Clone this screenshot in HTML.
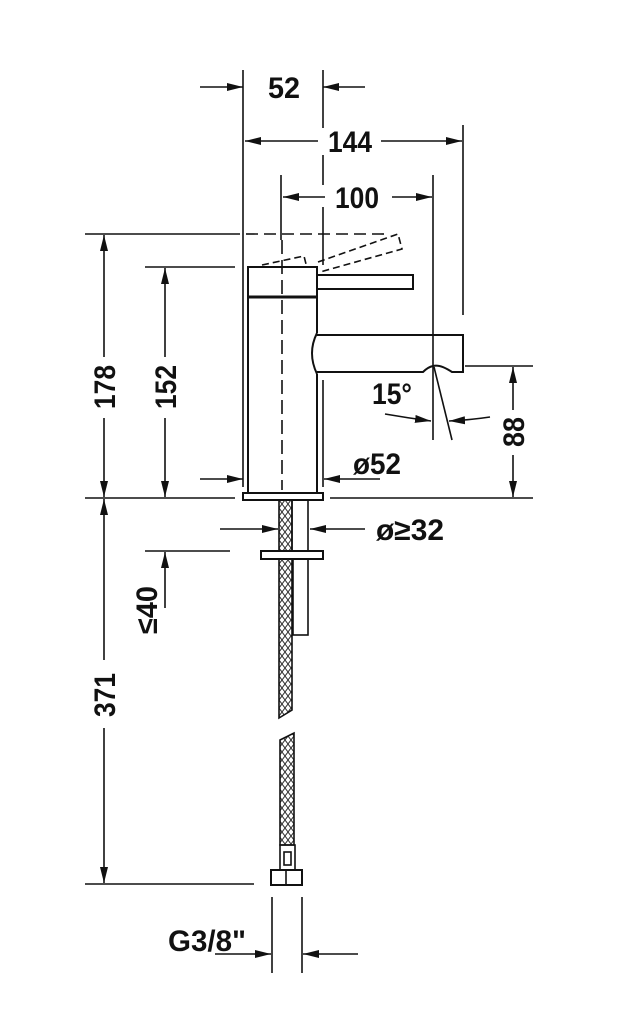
<!DOCTYPE html>
<html><head><meta charset="utf-8"><style>html,body{margin:0;padding:0;background:#fff}svg{display:block}
text{font-family:"Liberation Sans",sans-serif;font-weight:bold;fill:#111}</style></head>
<body>
<svg width="642" height="1024" viewBox="0 0 642 1024" xmlns="http://www.w3.org/2000/svg">
<defs>
<marker id="a" viewBox="0 0 16 8" refX="16" refY="4" markerWidth="16" markerHeight="8" markerUnits="userSpaceOnUse" orient="auto"><path d="M0,0 L16,4 L0,8 Z" fill="#111"/></marker>
<pattern id="h" width="6" height="8" patternUnits="userSpaceOnUse"><path d="M0,0 L6,8 M6,0 L0,8" stroke="#333" stroke-width="1" fill="none"/></pattern>
</defs>
<g stroke="#111" stroke-width="1.6" fill="none">
<line x1="243" y1="70" x2="243" y2="487"/>
<line x1="323" y1="70" x2="323" y2="128"/>
<line x1="323" y1="155" x2="323" y2="185"/>
<line x1="323" y1="207" x2="323" y2="265"/>
<line x1="323" y1="380" x2="323" y2="487"/>
<line x1="463" y1="125" x2="463" y2="315"/>
<line x1="433" y1="175" x2="433" y2="440"/>
<line x1="281" y1="175" x2="281" y2="240"/>
<line x1="282" y1="240" x2="282" y2="490" stroke-dasharray="14,6"/>
<line x1="85" y1="234" x2="240" y2="234"/>
<line x1="246" y1="234" x2="385" y2="234" stroke-dasharray="12,6"/>
<line x1="145" y1="267" x2="235" y2="267"/>
<line x1="85" y1="498" x2="235" y2="498"/>
<line x1="330" y1="498" x2="533" y2="498"/>
<line x1="465" y1="366" x2="533" y2="366"/>
<line x1="145" y1="551" x2="230" y2="551"/>
<line x1="85" y1="884" x2="254" y2="884"/>
<line x1="272" y1="897" x2="272" y2="973"/>
<line x1="302" y1="897" x2="302" y2="973"/>
<line x1="200" y1="87" x2="243" y2="87" marker-end="url(#a)"/>
<line x1="365" y1="87" x2="323" y2="87" marker-end="url(#a)"/>
<line x1="318" y1="141" x2="245" y2="141" marker-end="url(#a)"/>
<line x1="381" y1="141" x2="462" y2="141" marker-end="url(#a)"/>
<line x1="325" y1="197" x2="283" y2="197" marker-end="url(#a)"/>
<line x1="392" y1="197" x2="432" y2="197" marker-end="url(#a)"/>
<line x1="104" y1="357" x2="104" y2="235" marker-end="url(#a)"/>
<line x1="104" y1="418" x2="104" y2="497" marker-end="url(#a)"/>
<line x1="165" y1="357" x2="165" y2="268" marker-end="url(#a)"/>
<line x1="165" y1="418" x2="165" y2="497" marker-end="url(#a)"/>
<line x1="104" y1="660" x2="104" y2="499" marker-end="url(#a)"/>
<line x1="104" y1="728" x2="104" y2="883" marker-end="url(#a)"/>
<line x1="165" y1="608" x2="165" y2="552" marker-end="url(#a)"/>
<line x1="513" y1="410" x2="513" y2="367" marker-end="url(#a)"/>
<line x1="513" y1="455" x2="513" y2="497" marker-end="url(#a)"/>
<line x1="200" y1="479" x2="243" y2="479" marker-end="url(#a)"/>
<line x1="380" y1="479" x2="324" y2="479" marker-end="url(#a)"/>
<line x1="220" y1="529" x2="278" y2="529" marker-end="url(#a)"/>
<line x1="365" y1="529" x2="310" y2="529" marker-end="url(#a)"/>
<line x1="215" y1="954" x2="271" y2="954" marker-end="url(#a)"/>
<line x1="358" y1="954" x2="303" y2="954" marker-end="url(#a)"/>
<path d="M385,414 Q408,418 431,421" marker-end="url(#a)"/>
<path d="M490,417 Q470,420 449,421" marker-end="url(#a)"/>
<line x1="434" y1="367" x2="452" y2="440"/>
<rect x="248" y="267" width="69" height="30" stroke-width="2"/>
<line x1="248" y1="297" x2="317" y2="297" stroke-width="3"/>
<line x1="248" y1="297" x2="248" y2="493" stroke-width="2"/>
<line x1="317" y1="297" x2="317" y2="333" stroke-width="2"/>
<line x1="317" y1="374" x2="317" y2="493" stroke-width="2"/>
<rect x="243" y="493" width="80" height="7" stroke-width="2"/>
<rect x="317" y="275" width="96" height="14" stroke-width="2"/>
<path d="M317,333 Q307,353 317,374" stroke-width="2"/>
<path d="M317,335 L463,335 L463,372 L452,372 Q440,364 433,366 Q428,367 423,372 L317,372" stroke-width="2"/>
<g stroke-dasharray="7,4">
<path d="M262,265 L304,256 L306,264"/>
<path d="M318,262 L398,234 L402,249 L320,272"/>
</g>
<rect x="279" y="500" width="13" height="51" fill="url(#h)"/>
<rect x="292" y="500" width="16" height="51"/>
<rect x="261" y="551" width="62" height="8" stroke-width="2"/>
<path d="M279,559 L292,559 L292,710 L279,718 Z" fill="url(#h)"/>
<rect x="293" y="559" width="15" height="76"/>
<path d="M280,740 L294,733 L294,845 L280,845 Z" fill="url(#h)"/>
<rect x="280" y="845" width="15" height="25"/>
<rect x="284" y="852" width="7" height="13"/>
<rect x="271" y="870" width="31" height="15" stroke-width="2"/>
<line x1="286" y1="870" x2="286" y2="885"/>
</g>
<g font-size="30">
<text x="284" y="98" text-anchor="middle" textLength="32" lengthAdjust="spacingAndGlyphs">52</text>
<text x="350" y="152" text-anchor="middle" textLength="44" lengthAdjust="spacingAndGlyphs">144</text>
<text x="357" y="208" text-anchor="middle" textLength="44" lengthAdjust="spacingAndGlyphs">100</text>
<text x="392" y="404" text-anchor="middle" textLength="40" lengthAdjust="spacingAndGlyphs">15°</text>
<text x="377" y="474" text-anchor="middle" textLength="48" lengthAdjust="spacingAndGlyphs">ø52</text>
<text x="410" y="540" text-anchor="middle" textLength="68" lengthAdjust="spacingAndGlyphs">ø≥32</text>
<text x="207" y="951" text-anchor="middle" textLength="78" lengthAdjust="spacingAndGlyphs">G3/8"</text>
<text transform="translate(115,387) rotate(-90)" text-anchor="middle" textLength="44" lengthAdjust="spacingAndGlyphs">178</text>
<text transform="translate(176,387) rotate(-90)" text-anchor="middle" textLength="44" lengthAdjust="spacingAndGlyphs">152</text>
<text transform="translate(115,695) rotate(-90)" text-anchor="middle" textLength="44" lengthAdjust="spacingAndGlyphs">371</text>
<text transform="translate(524,432) rotate(-90)" text-anchor="middle" textLength="30" lengthAdjust="spacingAndGlyphs">88</text>
<text transform="translate(157,610) rotate(-90)" text-anchor="middle" textLength="48" lengthAdjust="spacingAndGlyphs">≤40</text>
</g>
</svg>
</body></html>
